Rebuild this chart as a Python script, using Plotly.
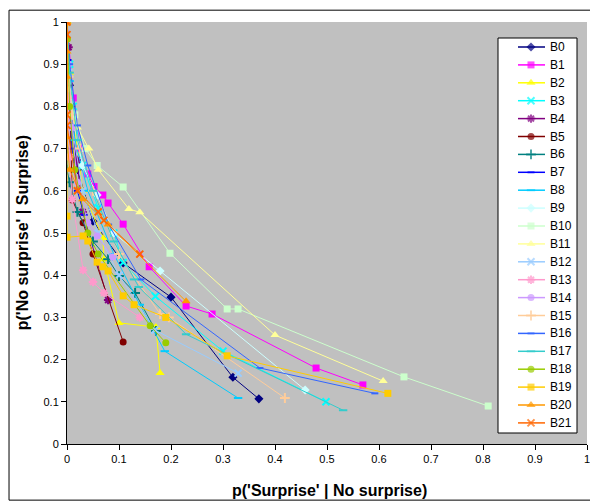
import plotly.graph_objects as go

names = ["B%d" % i for i in range(22)]

x_B0 = [0, 0.005, 0.01, 0.02, 0.05, 0.108, 0.2, 0.319, 0.369]
y_B0 = [1, 0.85, 0.75, 0.65, 0.528, 0.429, 0.348, 0.158, 0.107]
x_B1 = [0, 0.012, 0.025, 0.04, 0.052, 0.069, 0.079, 0.108, 0.158, 0.229, 0.279, 0.479, 0.569]
y_B1 = [1, 0.82, 0.70, 0.64, 0.61, 0.59, 0.571, 0.521, 0.42, 0.327, 0.308, 0.18, 0.14]
x_B2 = [0, 0.005, 0.015, 0.03, 0.069, 0.071, 0.1, 0.171, 0.179]
y_B2 = [1, 0.88, 0.75, 0.6, 0.488, 0.438, 0.287, 0.277, 0.168]
x_B3 = [0, 0.005, 0.012, 0.03, 0.06, 0.09, 0.108, 0.17, 0.3, 0.498]
y_B3 = [1, 0.9, 0.8, 0.66, 0.56, 0.5, 0.43, 0.35, 0.22, 0.1]
x_B4 = [0, 0.003, 0.008, 0.019, 0.03, 0.079]
y_B4 = [1, 0.94, 0.8, 0.673, 0.55, 0.341]
x_B5 = [0, 0.005, 0.01, 0.031, 0.05, 0.108]
y_B5 = [1, 0.85, 0.578, 0.524, 0.45, 0.242]
x_B6 = [0, 0, 0.005, 0.02, 0.05, 0.079, 0.1, 0.131, 0.171]
y_B6 = [1, 0.65, 0.62, 0.55, 0.48, 0.438, 0.398, 0.358, 0.268]
x_B7 = [0, 0.002, 0.005, 0.01, 0.02, 0.033]
y_B7 = [1, 0.91, 0.8, 0.7, 0.6, 0.543]
x_B8 = [0, 0.005, 0.015, 0.04, 0.09, 0.14, 0.188, 0.329]
y_B8 = [1, 0.86, 0.72, 0.6, 0.45, 0.33, 0.22, 0.109]
x_B9 = [0, 0.002, 0.01, 0.03, 0.058, 0.09, 0.179, 0.458]
y_B9 = [1, 0.9, 0.78, 0.66, 0.59, 0.5, 0.41, 0.128]
x_B10 = [0, 0.002, 0.015, 0.035, 0.058, 0.108, 0.198, 0.308, 0.329, 0.648, 0.81]
y_B10 = [1, 0.86, 0.78, 0.7, 0.66, 0.609, 0.452, 0.32, 0.32, 0.159, 0.09]
x_B11 = [0, 0.002, 0.02, 0.042, 0.06, 0.119, 0.14, 0.4, 0.608]
y_B11 = [1, 0.84, 0.75, 0.70, 0.65, 0.557, 0.549, 0.258, 0.149]
x_B12 = [0, 0.003, 0.01, 0.03, 0.06, 0.1, 0.169, 0.329]
y_B12 = [1, 0.88, 0.75, 0.6, 0.5, 0.4, 0.27, 0.168]
x_B13 = [0, 0.002, 0.005, 0.01, 0.031, 0.05, 0.071, 0.14]
y_B13 = [1, 0.82, 0.68, 0.58, 0.412, 0.384, 0.358, 0.3]
x_B14 = [0, 0.003, 0.01, 0.02, 0.04, 0.058, 0.088]
y_B14 = [1, 0.9, 0.75, 0.62, 0.524, 0.493, 0.443]
x_B15 = [0, 0.003, 0.01, 0.025, 0.05, 0.1, 0.179, 0.196, 0.419]
y_B15 = [1, 0.87, 0.78, 0.7, 0.6, 0.45, 0.308, 0.3, 0.109]
x_B16 = [0, 0.005, 0.02, 0.04, 0.08, 0.142, 0.371, 0.592]
y_B16 = [1, 0.9, 0.755, 0.66, 0.52, 0.39, 0.18, 0.12]
x_B17 = [0, 0.005, 0.02, 0.05, 0.09, 0.129, 0.138, 0.229, 0.531]
y_B17 = [1, 0.88, 0.72, 0.6, 0.48, 0.39, 0.372, 0.26, 0.08]
x_B18 = [0, 0.001, 0.005, 0.015, 0.04, 0.06, 0.16, 0.19]
y_B18 = [1, 0.96, 0.8, 0.65, 0.5, 0.45, 0.28, 0.24]
x_B19 = [0, 0, 0, 0.031, 0.04, 0.058, 0.069, 0.079, 0.108, 0.129, 0.19, 0.308, 0.617]
y_B19 = [1, 0.54, 0.49, 0.493, 0.481, 0.431, 0.42, 0.41, 0.351, 0.33, 0.3, 0.209, 0.12]
x_B20 = [0, 0, 0, 0, 0.005, 0.03, 0.079, 0.229]
y_B20 = [1, 0.93, 0.87, 0.727, 0.65, 0.58, 0.52, 0.338]
x_B21 = [0, 0, 0, 0, 0.02, 0.06, 0.071, 0.14]
y_B21 = [1, 0.97, 0.78, 0.755, 0.6, 0.55, 0.53, 0.45]

tick_vals = [0, 0.1, 0.2, 0.3, 0.4, 0.5, 0.6, 0.7, 0.8, 0.9, 1]
tick_text = ["0", "0.1", "0.2", "0.3", "0.4", "0.5", "0.6", "0.7", "0.8", "0.9", "1"]

xs = [x_B0, x_B1, x_B2, x_B3, x_B4, x_B5, x_B6, x_B7, x_B8, x_B9, x_B10,
      x_B11, x_B12, x_B13, x_B14, x_B15, x_B16, x_B17, x_B18, x_B19, x_B20, x_B21]
ys = [y_B0, y_B1, y_B2, y_B3, y_B4, y_B5, y_B6, y_B7, y_B8, y_B9, y_B10,
      y_B11, y_B12, y_B13, y_B14, y_B15, y_B16, y_B17, y_B18, y_B19, y_B20, y_B21]

colors = ["#000080", "#FF00FF", "#FFFF00", "#00FFFF", "#800080", "#800000",
          "#008080", "#0000FF", "#00CCFF", "#CCFFFF", "#CCFFCC", "#FFFF99",
          "#99CCFF", "#FF99CC", "#CC99FF", "#FFCC99", "#3366FF", "#33CCCC",
          "#99CC00", "#FFCC00", "#FF9900", "#FF6600"]
symbols = ["diamond", "square", "triangle-up", "x-thin-open", "asterisk-open",
           "circle", "cross-thin-open", "line-ew-open", "line-ew-open", "diamond",
           "square", "triangle-up", "x-thin-open", "asterisk-open", "circle",
           "cross-thin-open", "line-ew-open", "line-ew-open", "circle", "square",
           "triangle-up", "x-thin-open"]
sizes = [7, 7, 8, 7, 7, 7, 7, 5, 6, 7, 7, 8, 7, 7, 7, 7, 5, 6, 7, 7, 8, 7]

fig = go.Figure()
for n, x, y, c, s, sz in zip(names, xs, ys, colors, symbols, sizes):
    fig.add_trace(go.Scatter(
        x=x, y=y, name=n, mode="lines+markers", showlegend=False,
        line=dict(color=c, width=1),
        marker=dict(color=c, symbol=s, size=sz,
                    line=dict(color=c, width=2 if s.endswith("open") else 0)),
    ))

# Hand-built legend on a pixel-unit overlay axis pair (x2/y2 map to page pixels)
LX0, LX1, LY0, LY1 = 498, 577, 38, 433
fig.add_trace(go.Scatter(
    x=[LX0, LX1, LX1, LX0, LX0], y=[LY0, LY0, LY1, LY1, LY0],
    xaxis="x2", yaxis="y2", mode="lines", fill="toself", fillcolor="white",
    line=dict(color="black", width=1), showlegend=False, hoverinfo="skip"))
annotations = []
for i, (n, c, s, sz) in enumerate(zip(names, colors, symbols, sizes)):
    yy = 47 + 17.9 * i
    fig.add_trace(go.Scatter(
        x=[518, 531, 545], y=[yy, yy, yy], xaxis="x2", yaxis="y2",
        mode="lines+markers", showlegend=False, hoverinfo="skip",
        line=dict(color=c, width=1.5),
        marker=dict(color=c, symbol=s, size=[0, sz, 0],
                    line=dict(color=c, width=2 if s.endswith("open") else 0))))
    annotations.append(dict(x=548, y=yy, xref="x2", yref="y2", text=n,
                            showarrow=False, xanchor="left", yanchor="middle",
                            font=dict(size=12, color="black")))

# Axis titles
annotations.append(dict(x=0.505, y=-0.11, xref="paper", yref="paper",
                        text="<b>p('Surprise' | No surprise)</b>", showarrow=False,
                        xanchor="center", yanchor="middle",
                        font=dict(size=16, color="black")))
annotations.append(dict(x=-0.086, y=0.5, xref="paper", yref="paper",
                        text="<b>p('No surprise' | Surprise)</b>", showarrow=False,
                        textangle=-90, xanchor="center", yanchor="middle",
                        font=dict(size=16, color="black")))

fig.update_layout(
    width=590, height=502,
    margin=dict(l=67, r=3, t=22, b=58, autoexpand=False),
    paper_bgcolor="white", plot_bgcolor="#C0C0C0",
    font=dict(family="Liberation Sans, Arial, sans-serif", size=11, color="black"),
    showlegend=False,
    xaxis=dict(range=[0, 1], tickvals=tick_vals, ticktext=tick_text, automargin=False,
               showgrid=False, zeroline=False, showline=True, linecolor="black",
               ticks="outside", ticklen=5, tickcolor="black", fixedrange=True,
               ticklabeloverflow="allow"),
    yaxis=dict(range=[0, 1], tickvals=tick_vals, ticktext=tick_text, automargin=False,
               showgrid=False, zeroline=False, showline=True, linecolor="black",
               ticks="outside", ticklen=5, tickcolor="black", fixedrange=True,
               ticklabeloverflow="allow"),
    xaxis2=dict(overlaying="x", range=[67, 587], visible=False, fixedrange=True),
    yaxis2=dict(overlaying="y", range=[444, 22], visible=False, fixedrange=True),
    annotations=annotations,
    shapes=[dict(type="rect", xref="paper", yref="paper",
                 x0=-0.1115, x1=1.01, y0=-0.133, y1=1.028,
                 line=dict(color="black", width=1), fillcolor="rgba(0,0,0,0)", layer="below")],
)

fig.write_html("out.html", config={"displayModeBar": False},
               post_script="document.body.style.margin='0';document.body.style.overflow='hidden';")
